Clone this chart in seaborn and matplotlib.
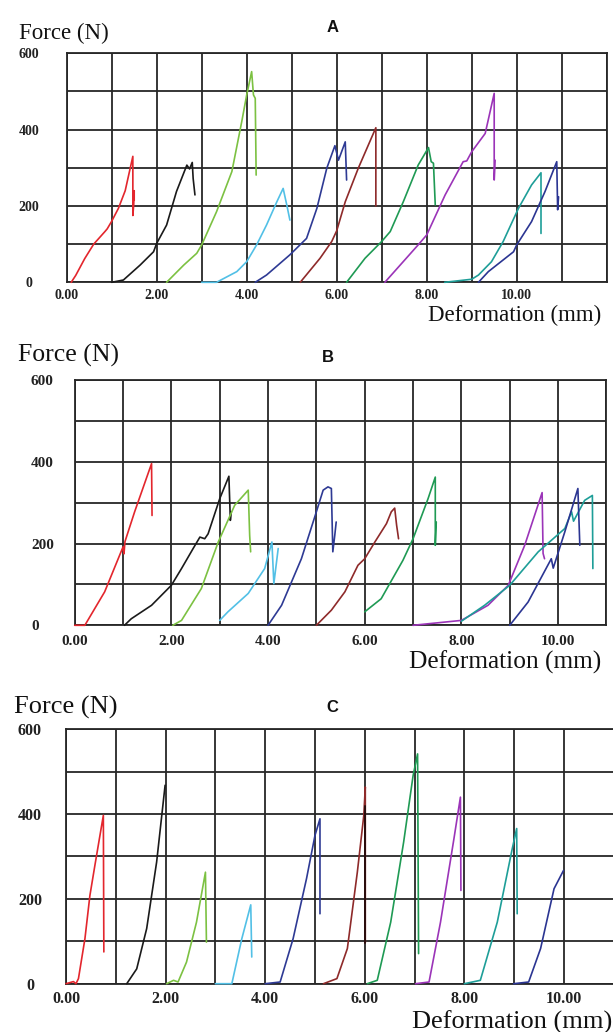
import matplotlib
matplotlib.use("Agg")
import numpy as np
import pandas as pd
import matplotlib.pyplot as plt
import seaborn as sns

# ---------------- data (deformation mm, force N) ----------------
SPECIMENS = ["S1", "S2", "S3", "S4", "S5", "S6", "S7", "S8", "S9", "S10"]
COLORS = ["#e3262d", "#1a1a1a", "#7cc142", "#52c0e6", "#2e3a94",
          "#8e2a2a", "#1f9a54", "#9b34b8", "#1e9e98", "#2b3592"]

# Panel A
A_S1 = [(0.10, 0), (0.2, 18), (0.4, 62), (0.6, 100), (0.85, 133), (0.9, 140), (1.0, 160),
        (1.15, 194), (1.3, 240), (1.47, 330), (1.47, 175), (1.49, 205), (1.50, 240), (1.50, 215)]
A_S2 = [(1.0, 0), (1.26, 6), (1.63, 45), (1.93, 80), (2.0, 102), (2.22, 150), (2.44, 238),
        (2.67, 307), (2.73, 297), (2.79, 314), (2.81, 272), (2.85, 229)]
A_S3 = [(2.22, 0), (2.6, 45), (2.89, 76), (3.0, 98), (3.33, 185), (3.67, 290), (3.89, 421),
        (4.0, 491), (4.11, 552), (4.15, 491), (4.19, 482), (4.21, 281)]
A_S4 = [(3.0, 0), (3.33, 0), (3.78, 28), (4.0, 54), (4.22, 98), (4.44, 150), (4.67, 211),
        (4.81, 246), (4.89, 203), (4.96, 163)]
A_S5 = [(4.19, 0), (4.44, 19), (4.96, 72), (5.33, 115), (5.56, 194), (5.78, 299), (5.96, 358),
        (6.04, 320), (6.19, 368), (6.22, 268)]
A_S6 = [(5.19, 0), (5.63, 63), (5.89, 107), (6.0, 135), (6.19, 211), (6.48, 299), (6.87, 405),
        (6.87, 200)]
A_S7 = [(6.22, 0), (6.63, 63), (7.0, 107), (7.19, 133), (7.48, 211), (7.81, 307), (8.04, 353),
        (8.10, 316), (8.15, 312), (8.19, 203)]
A_S8 = [(7.07, 0), (7.81, 98), (8.0, 124), (8.41, 229), (8.81, 316), (8.89, 318), (9.0, 342),
        (9.30, 390), (9.50, 495), (9.50, 268), (9.52, 320)]
A_S9 = [(8.4, 0), (9.0, 8), (9.15, 19), (9.44, 54), (9.70, 107), (10.04, 194), (10.33, 255),
        (10.54, 287), (10.54, 128)]
A_S10 = [(9.15, 0), (9.37, 28), (9.93, 80), (10.0, 98), (10.33, 159), (10.63, 238), (10.89, 316),
         (10.91, 190), (10.93, 224)]

# Panel B
B_S1 = [(0.0, 0), (0.21, 0), (0.62, 82), (1.0, 192), (1.02, 175), (1.04, 205), (1.24, 278),
        (1.59, 396), (1.60, 269)]
B_S2 = [(1.03, 0), (1.17, 16), (1.59, 49), (2.0, 98), (2.21, 139), (2.45, 188), (2.59, 216),
        (2.69, 212), (2.76, 224), (3.0, 310), (3.19, 365), (3.22, 257), (3.24, 278)]
B_S3 = [(2.03, 0), (2.21, 12), (2.62, 90), (2.97, 204), (3.31, 294), (3.59, 331), (3.62, 220),
        (3.64, 180)]
B_S4 = [(3.0, 12), (3.17, 33), (3.59, 78), (3.93, 139), (4.08, 204), (4.12, 102), (4.21, 188)]
B_S5 = [(4.0, 0), (4.28, 49), (4.69, 163), (5.0, 278), (5.14, 331), (5.24, 339), (5.31, 335),
        (5.34, 180), (5.38, 220), (5.41, 253)]
B_S6 = [(5.0, 0), (5.31, 37), (5.59, 82), (5.86, 147), (6.0, 163), (6.21, 204), (6.45, 249),
        (6.55, 278), (6.62, 287), (6.66, 245), (6.70, 212)]
B_S7 = [(6.0, 33), (6.34, 65), (6.79, 159), (7.0, 212), (7.31, 310), (7.46, 363), (7.46, 196),
        (7.48, 253)]
B_S8 = [(7.0, 0), (8.0, 12), (8.55, 49), (8.97, 98), (9.31, 196), (9.67, 325), (9.69, 176),
        (9.72, 163)]
B_S9 = [(8.0, 10), (8.48, 49), (9.0, 98), (9.59, 180), (10.14, 237), (10.28, 278), (10.32, 255),
        (10.55, 306), (10.71, 318), (10.72, 139)]
B_S10 = [(9.0, 0), (9.38, 57), (9.86, 163), (9.90, 140), (10.14, 229), (10.41, 335), (10.45, 196)]

# Panel C
C_S1 = [(0.0, 0), (0.15, 5), (0.2, 0), (0.25, 12), (0.38, 106), (0.48, 208), (0.58, 279),
        (0.75, 397), (0.76, 75)]
C_S2 = [(1.22, 0), (1.42, 35), (1.62, 130), (1.82, 287), (1.99, 468)]
C_S3 = [(2.02, 0), (2.16, 8), (2.25, 4), (2.42, 51), (2.62, 145), (2.80, 263), (2.82, 98)]
C_S4 = [(3.0, 0), (3.33, 0), (3.53, 106), (3.71, 186), (3.73, 63)]
C_S5 = [(4.0, 0), (4.30, 4), (4.56, 106), (4.83, 248), (5.0, 350), (5.10, 389), (5.10, 165)]
C_S6 = [(5.17, 0), (5.44, 12), (5.65, 83), (5.85, 263), (5.98, 397), (6.01, 464), (6.01, 97)]
C_S7 = [(6.05, 0), (6.25, 8), (6.52, 145), (6.78, 334), (6.97, 491), (7.06, 542), (7.08, 71)]
C_S8 = [(7.02, 0), (7.29, 4), (7.52, 145), (7.79, 342), (7.92, 440), (7.93, 220)]
C_S9 = [(8.0, 0), (8.32, 8), (8.66, 145), (8.96, 318), (9.05, 366), (9.06, 165)]
C_S10 = [(8.99, 0), (9.29, 4), (9.53, 83), (9.80, 224), (9.99, 267)]
C_S6_drop = [(6.0, 97), (6.0, 420)]

XTICK_LABELS = ["0.00", "2.00", "4.00", "6.00", "8.00", "10.00"]
YTICK_LABELS = ["0", "200", "400", "600"]


def to_frame(curves):
    rows = []
    for name, pts in zip(SPECIMENS, curves):
        for i, (x, y) in enumerate(pts):
            rows.append({"specimen": name, "order": i, "x": x, "y": y})
    return pd.DataFrame(rows)


sns.set_theme(style="white")
plt.rcParams["font.family"] = ["Liberation Serif", "DejaVu Serif"]

W, H = 613, 1032
fig = plt.figure(figsize=(W / 100, H / 100), dpi=100)


def px_axes(x0, y_top, width, height):
    return fig.add_axes([x0 / W, 1 - (y_top + height) / H, width / W, height / H])


def draw(ax, curves, xmax, tick_size, ylab_ha, ylab_pad, xlab_pad):
    df = to_frame(curves)
    sns.lineplot(data=df, x="x", y="y", hue="specimen", palette=COLORS, sort=False,
                 estimator=None, legend=False, linewidth=1.2, ax=ax, zorder=3, clip_on=False)
    ax.set_xlim(0, xmax)
    ax.set_ylim(0, 600)
    xt = np.arange(0, xmax + 1, 1)
    ax.set_xticks(xt)
    ax.set_xticklabels([XTICK_LABELS[int(v) // 2] if (int(v) % 2 == 0 and v <= 10) else ""
                        for v in xt])
    yt = np.arange(0, 601, 100)
    ax.set_yticks(yt)
    ax.set_yticklabels([YTICK_LABELS[int(v) // 200] if int(v) % 200 == 0 else "" for v in yt])
    ax.tick_params(length=0, labelsize=tick_size)
    ax.tick_params(axis="y", pad=ylab_pad)
    ax.tick_params(axis="x", pad=xlab_pad)
    for lab in ax.get_xticklabels() + ax.get_yticklabels():
        lab.set_fontweight("bold")
        lab.set_color("#222222")
    for lab in ax.get_yticklabels():
        lab.set_ha(ylab_ha)
    ax.grid(True, color="#262626", linewidth=1.3)
    ax.set_axisbelow(True)
    for s in ax.spines.values():
        s.set_color("#262626")
        s.set_linewidth(1.3)
    ax.set_xlabel("")
    ax.set_ylabel("")


# Panel A
axA = px_axes(66.7, 53.3, 540, 229)
draw(axA, [A_S1, A_S2, A_S3, A_S4, A_S5, A_S6, A_S7, A_S8, A_S9, A_S10], 12, 10, "center", 27, 5)
# Panel B
axB = px_axes(74.7, 380.3, 531.7, 245)
draw(axB, [B_S1, B_S2, B_S3, B_S4, B_S5, B_S6, B_S7, B_S8, B_S9, B_S10], 11, 11, "left", 31.5, 7)
# Panel C
axC = px_axes(66, 729.3, 547.8, 254.4)
draw(axC, [C_S1, C_S2, C_S3, C_S4, C_S5, C_S6, C_S7, C_S8, C_S9, C_S10], 11, 11.5, "center", 26, 5)
drop = pd.DataFrame(C_S6_drop, columns=["x", "y"])
sns.lineplot(data=drop, x="x", y="y", sort=False, estimator=None, color="#2a0d0d",
             linewidth=1.4, ax=axC, zorder=4)
axC.set_xlabel("")
axC.set_ylabel("")


def ftext(x, y, s, **kw):
    fig.text(x / W, 1 - y / H, s, **kw)


# Titles
for (x, y, s) in [(333, 27, "A"), (328, 357, "B"), (332, 708, "C")]:
    ftext(x, y, s, ha="center", va="center", fontsize=12, fontweight="bold",
          family=["Liberation Sans", "DejaVu Sans"], color="#111111")

# Axis labels
ftext(19, 33, "Force (N)", ha="left", va="center", fontsize=16.5, color="#111111")
ftext(601, 315, "Deformation (mm)", ha="right", va="center", fontsize=16.5, color="#111111")
ftext(18, 355, "Force (N)", ha="left", va="center", fontsize=18.5, color="#111111")
ftext(601, 662, "Deformation (mm)", ha="right", va="center", fontsize=18.3, color="#111111")
ftext(14, 707, "Force (N)", ha="left", va="center", fontsize=19, color="#111111")
ftext(612, 1022, "Deformation (mm)", ha="right", va="center", fontsize=19, color="#111111")

fig.savefig("out.png", dpi=100, facecolor="white")
